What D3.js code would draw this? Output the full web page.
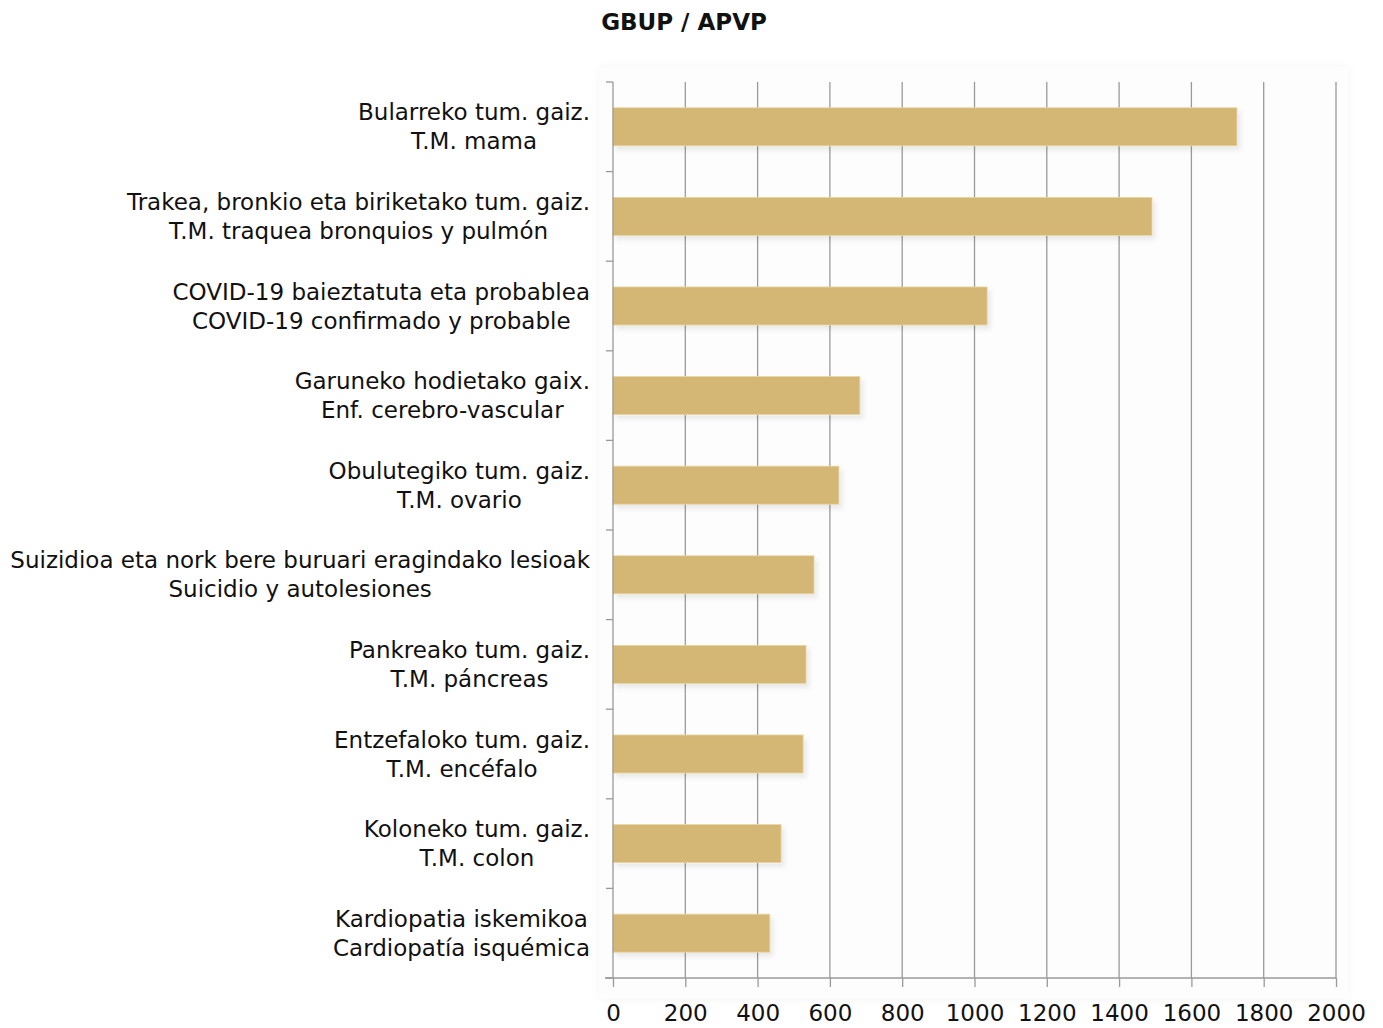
<!DOCTYPE html>
<html>
<head>
<meta charset="utf-8">
<script src="https://cdn.jsdelivr.net/npm/d3@7"></script>
<style>
  html, body { margin: 0; padding: 0; background: #fff; }
  svg { display: block; }
  text { font-family: "DejaVu Sans", sans-serif; fill: #111; }
</style>
</head>
<body>
<svg id="chart" width="1383" height="1028"></svg>
<script>
// ---- data ----
const titleText = "GBUP / APVP";
const labelsEu = [
  "Bularreko tum. gaiz.",
  "Trakea, bronkio eta biriketako tum. gaiz.",
  "COVID-19 baieztatuta eta probablea",
  "Garuneko hodietako gaix.",
  "Obulutegiko tum. gaiz.",
  "Suizidioa eta nork bere buruari eragindako lesioak",
  "Pankreako tum. gaiz.",
  "Entzefaloko tum. gaiz.",
  "Koloneko tum. gaiz.",
  "Kardiopatia iskemikoa"
];
const labelsEs = [
  "T.M. mama",
  "T.M. traquea bronquios y pulmón",
  "COVID-19 confirmado y probable",
  "Enf. cerebro-vascular",
  "T.M. ovario",
  "Suicidio y autolesiones",
  "T.M. páncreas",
  "T.M. encéfalo",
  "T.M. colon",
  "Cardiopatía isquémica"
];
const values = [1726, 1491, 1035, 683, 625, 556, 534, 526, 465, 434];
const xTicks = [0, 200, 400, 600, 800, 1000, 1200, 1400, 1600, 1800, 2000];
const xDomain = [0, 2000];

// ---- layout ----
const svg = d3.select("#chart");
const margin = { left: 613, right: 1383 - 1336, top: 82, bottom: 1028 - 978 };
const W = 1383, H = 1028;
const plotW = W - margin.left - margin.right;
const plotH = H - margin.top - margin.bottom;

const defs = svg.append("defs");
const panelF = defs.append("filter").attr("id", "panelShadow")
  .attr("x", "-5%").attr("y", "-5%").attr("width", "110%").attr("height", "110%");
panelF.append("feGaussianBlur").attr("in", "SourceAlpha").attr("stdDeviation", 4).attr("result", "b");
panelF.append("feFlood").attr("flood-color", "#000").attr("flood-opacity", 0.04).attr("result", "c");
panelF.append("feComposite").attr("in", "c").attr("in2", "b").attr("operator", "in").attr("result", "s");
const pm = panelF.append("feMerge");
pm.append("feMergeNode").attr("in", "s");
pm.append("feMergeNode").attr("in", "SourceGraphic");

const barF = defs.append("filter").attr("id", "barShadow")
  .attr("x", "-5%").attr("y", "-30%").attr("width", "115%").attr("height", "180%");
barF.append("feGaussianBlur").attr("in", "SourceAlpha").attr("stdDeviation", 2.5).attr("result", "b");
barF.append("feOffset").attr("in", "b").attr("dx", 3).attr("dy", 4).attr("result", "o");
barF.append("feFlood").attr("flood-color", "#000").attr("flood-opacity", 0.08).attr("result", "c");
barF.append("feComposite").attr("in", "c").attr("in2", "o").attr("operator", "in").attr("result", "s");
const bm = barF.append("feMerge");
bm.append("feMergeNode").attr("in", "s");
bm.append("feMergeNode").attr("in", "SourceGraphic");

// panel background
svg.append("rect")
  .attr("x", margin.left - 14).attr("y", margin.top - 15)
  .attr("width", plotW + 26).attr("height", plotH + 36)
  .attr("fill", "#fdfdfd").attr("filter", "url(#panelShadow)");

const g = svg.append("g").attr("transform", `translate(${margin.left},${margin.top})`);

const x = d3.scaleLinear().domain(xDomain).range([0, plotW]);
const y = d3.scaleBand().domain(d3.range(values.length)).range([0, plotH])
  .paddingInner(0.575).paddingOuter(0.2875);

// gridlines
g.append("g").selectAll("line").data(xTicks.filter(d => d > 0)).join("line")
  .attr("x1", d => x(d)).attr("x2", d => x(d))
  .attr("y1", 0).attr("y2", plotH)
  .attr("stroke", "#9a9a9a").attr("stroke-width", 1.3);

// bars
g.append("g").selectAll("rect").data(values).join("rect")
  .attr("x", 0).attr("y", (d, i) => y(i))
  .attr("width", d => x(d)).attr("height", y.bandwidth())
  .attr("fill", "#d5b775")
  .attr("stroke", "#e9d6a6").attr("stroke-width", 0.8)
  .attr("filter", "url(#barShadow)");

// left axis with category boundary ticks
const bounds = d3.range(values.length + 1).map(i => i * plotH / values.length);
g.append("line").attr("x1", 0).attr("x2", 0).attr("y1", 0).attr("y2", plotH)
  .attr("stroke", "#9a9a9a").attr("stroke-width", 1.3);
g.append("g").selectAll("line").data(bounds).join("line")
  .attr("x1", -7).attr("x2", 0).attr("y1", d => d).attr("y2", d => d)
  .attr("stroke", "#9a9a9a").attr("stroke-width", 1.3);

// bottom axis
const xAxis = d3.axisBottom(x).tickValues(xTicks).tickFormat(d3.format("d"))
  .tickSize(9).tickPadding(12).tickSizeOuter(0);
const xa = g.append("g").attr("transform", `translate(0,${plotH})`).call(xAxis);
xa.select(".domain").remove();
xa.append("line").attr("x1", -8).attr("x2", plotW).attr("y1", 0).attr("y2", 0)
  .attr("stroke", "#9a9a9a").attr("stroke-width", 1.3);
xa.selectAll(".tick line").attr("stroke", "#9a9a9a").attr("stroke-width", 1.3);
xa.selectAll(".tick text")
  .style("font-family", "'DejaVu Sans', sans-serif")
  .attr("font-size", 23).attr("fill", "#111").attr("dy", "0.95em");

// category labels (two lines, centered block, right-aligned to axis)
const labelRight = -23;
const lab = g.append("g");
values.forEach((v, i) => {
  const cy = y(i) + y.bandwidth() / 2;
  const grp = lab.append("g");
  const t1 = grp.append("text").text(labelsEu[i]).attr("font-size", 23)
    .attr("text-anchor", "middle").attr("y", cy - 14.5).attr("dy", "0.35em");
  const t2 = grp.append("text").text(labelsEs[i]).attr("font-size", 23)
    .attr("text-anchor", "middle").attr("y", cy + 14.5).attr("dy", "0.35em");
  const wMax = Math.max(t1.node().getComputedTextLength(), t2.node().getComputedTextLength());
  const cx = labelRight - wMax / 2;
  t1.attr("x", cx); t2.attr("x", cx);
});

// title
svg.append("text").text(titleText)
  .attr("x", 684).attr("y", 22).attr("dy", "0.35em")
  .attr("text-anchor", "middle").attr("font-size", 23).attr("font-weight", "bold");
</script>
</body>
</html>
